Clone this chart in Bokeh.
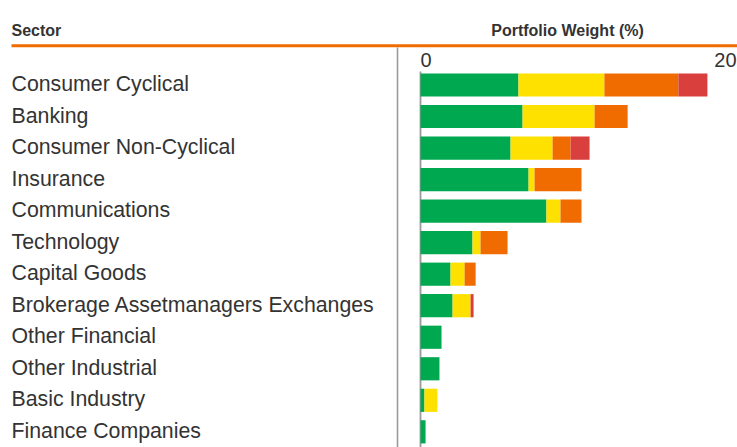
from bokeh.plotting import figure
from bokeh.models import ColumnDataSource, Range1d
from bokeh.core.properties import value
from bokeh.embed import file_html
from bokeh.resources import INLINE

# ---------------- data ----------------
sectors = [
    "Consumer Cyclical", "Banking", "Consumer Non-Cyclical", "Insurance",
    "Communications", "Technology", "Capital Goods",
    "Brokerage Assetmanagers Exchanges", "Other Financial",
    "Other Industrial", "Basic Industry", "Finance Companies",
]
low_risk    = [6.20, 6.46, 5.70, 6.84, 7.97, 3.29, 1.90, 2.03, 1.33, 1.20, 0.25, 0.32]
medium_risk = [5.44, 4.56, 2.66, 0.38, 0.89, 0.51, 0.89, 1.14, 0.00, 0.00, 0.82, 0.00]
high_risk   = [4.68, 2.09, 1.14, 2.97, 1.33, 1.71, 0.70, 0.00, 0.00, 0.00, 0.00, 0.00]
severe_risk = [1.84, 0.00, 1.20, 0.00, 0.00, 0.00, 0.00, 0.19, 0.00, 0.00, 0.00, 0.00]
ticks = [0, 20]
tick_labels = ["0", "20"]
col_header_left = "Sector"
col_header_right = "Portfolio Weight (%)"

# ---------------- layout ----------------
W, H = 737, 447
ZERO_PX, PX_PER_UNIT = 420.0, 15.8
ROW0_PX, PITCH = 84.5, 31.53
x0 = -ZERO_PX / PX_PER_UNIT
x1 = x0 + W / PX_PER_UNIT
y_top = -ROW0_PX / PITCH
y_bot = y_top + H / PITCH


def X(px):
    return x0 + px / PX_PER_UNIT


def Y(py):
    return y_top + py / PITCH


FONT = value("Liberation Sans")
TXT = "#333333"
GREY = "#9b9b9b"
ORANGE = "#F06C00"
colors = ["#00A850", "#FFE100", "#F06C00", "#D93F3C"]
stack_names = ["low", "medium", "high", "severe"]

source = ColumnDataSource(dict(
    y=list(range(len(sectors))), sector=sectors,
    low=low_risk, medium=medium_risk, high=high_risk, severe=severe_risk,
))

p = figure(width=W, height=H, x_range=Range1d(x0, x1), y_range=Range1d(y_bot, y_top),
           min_border=0, toolbar_location=None, output_backend="svg")
p.axis.visible = False
p.grid.visible = False
p.outline_line_color = None
p.background_fill_color = "white"
p.border_fill_color = "white"

# separator / zero lines
p.segment(x0=[X(397)], y0=[Y(47)], x1=[X(397)], y1=[Y(H)], line_color=GREY, line_width=1.6)
p.segment(x0=[0], y0=[Y(71)], x1=[0], y1=[Y(H)], line_color=GREY, line_width=1.8)

p.hbar_stack(stack_names, y="y", height=0.735, fill_color=colors, line_color=None, source=source)

# category labels
p.text(x=X(11), y="y", text="sector", source=source, text_align="left",
       text_baseline="alphabetic", y_offset=-1, text_font=FONT, text_font_size="21.3px",
       text_color=TXT)

# tick labels (flush)
for t, lab, al in zip(ticks, tick_labels, ["left", "right"]):
    p.text(x=[t], y=[Y(59)], text=[lab], text_align=al, text_baseline="alphabetic",
           text_font=FONT, text_font_size="20px", text_color=TXT)

# headers
p.text(x=[X(11)], y=[Y(29.5)], text=[col_header_left], text_align="left",
       text_baseline="alphabetic", text_font=FONT, text_font_size="16px",
       text_font_style="bold", text_color=TXT)
p.text(x=[X(567)], y=[Y(29.5)], text=[col_header_right], text_align="center",
       text_baseline="alphabetic", text_font=FONT, text_font_size="16px",
       text_font_style="bold", text_color=TXT)
p.segment(x0=[X(11)], y0=[Y(45.3)], x1=[X(W)], y1=[Y(45.3)], line_color=ORANGE, line_width=3)

open("out.html", "w").write(file_html(p, INLINE))
